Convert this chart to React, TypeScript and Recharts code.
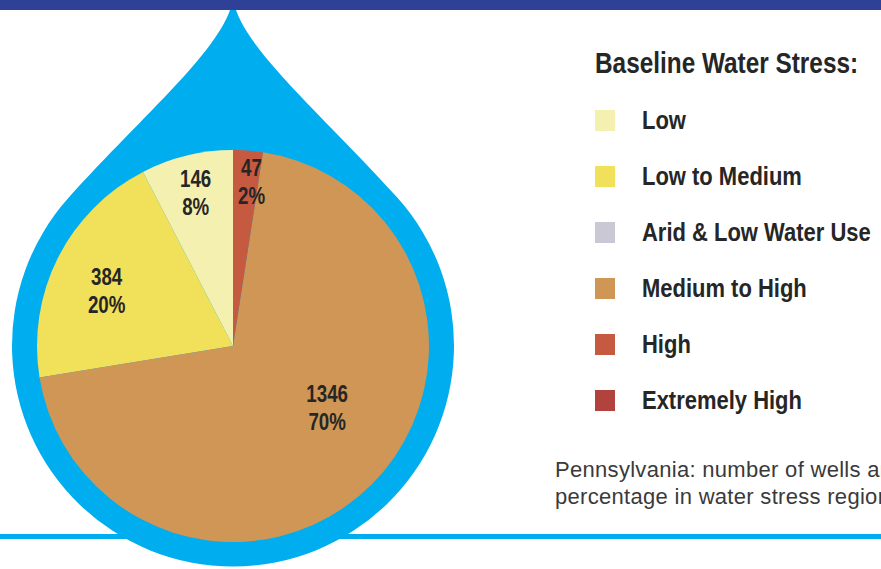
import { PieChart, Pie, Cell, Legend } from 'recharts'

const categories = ['Low', 'Low to Medium', 'Arid & Low Water Use', 'Medium to High', 'High', 'Extremely High']
const wells = [146, 384, 0, 1346, 47, 0]
const colors = ['#f4f1b0', '#f1e05a', '#c9c8d4', '#cf9655', '#c65a40', '#b2423e']

const data = categories.map((name, i) => ({ name, value: wells[i] }))

// no condensed face installed, so squeeze a bold sans horizontally
const BOLD = "'Liberation Sans', Arial, sans-serif"
const RADIAN = Math.PI / 180

const labelSpot: Record<string, { r: number; da: number }> = {
  Low: { r: 158, da: 0 },
  'Low to Medium': { r: 138, da: 3 },
  'Medium to High': { r: 112, da: 12 },
  High: { r: 166, da: -2 },
}

const renderLabel = (props: any) => {
  const { cx, cy, midAngle, value, percent, name } = props
  if (!value) return null
  const spot = labelSpot[name] ?? { r: 140, da: 0 }
  const a = (midAngle + spot.da) * RADIAN
  const x = cx + spot.r * Math.cos(a)
  const y = cy - spot.r * Math.sin(a)
  return (
    <text
      x={x}
      y={y}
      textAnchor="middle"
      fill="#262626"
      fontFamily={BOLD}
      fontWeight="bold"
      fontSize={24}
      transform={`translate(${x} 0) scale(0.78 1) translate(${-x} 0)`}
    >
      <tspan x={x} y={y - 5}>{value}</tspan>
      <tspan x={x} y={y + 23}>{Math.round(percent * 100)}%</tspan>
    </text>
  )
}

const squeeze = (scale: number) => ({
  display: 'inline-block',
  whiteSpace: 'nowrap' as const,
  transform: `scaleX(${scale})`,
  transformOrigin: 'left center',
})

const LegendBox = ({ payload }: any) => {
  const items = [...(payload ?? [])].sort(
    (a: any, b: any) => categories.indexOf(a.value) - categories.indexOf(b.value)
  )
  return (
    <div style={{ fontFamily: BOLD, fontWeight: 'bold', color: '#262626' }}>
      <div style={{ fontSize: 29, lineHeight: '30px', height: 44 }}>
        <span style={squeeze(0.84)}>Baseline Water Stress:</span>
      </div>
      {items.map((p: any) => (
        <div key={p.value} style={{ display: 'flex', alignItems: 'center', height: 56 }}>
          <span style={{ width: 20, height: 21, background: p.color, display: 'inline-block', flex: 'none' }} />
          <span style={{ marginLeft: 27, fontSize: 26, lineHeight: '30px', ...squeeze(0.845) }}>{p.value}</span>
        </div>
      ))}
    </div>
  )
}

// water drop outline around the pie
const CX = 233
const CY = 345.5
const R = 221
const dropPath = () => {
  const t = 48 * RADIAN
  const px = R * Math.sin(t)
  const py = CY - R * Math.cos(t)
  const c2x = px - 115 * Math.cos(t)
  const c2y = py - 115 * Math.sin(t)
  return [
    `M ${CX} -2`,
    `C ${CX + 6} 45 ${CX + c2x} ${c2y} ${CX + px} ${py}`,
    `A ${R} ${R} 0 1 1 ${CX - px} ${py}`,
    `C ${CX - c2x} ${c2y} ${CX - 6} 45 ${CX} -2`,
    'Z',
  ].join(' ')
}

export default function App() {
  return (
    <div style={{ position: 'absolute', left: 0, top: 0, width: 881, height: 569, overflow: 'hidden', background: '#fff' }}>
      <svg width={881} height={569} style={{ position: 'absolute', left: 0, top: 0 }}>
        <rect x={0} y={534} width={881} height={5} fill="#00aeef" />
        <path d={dropPath()} fill="#00aeef" />
        <rect x={0} y={0} width={881} height={10} fill="#2f4196" />
        <text fontFamily="'Liberation Sans', Arial, sans-serif" fontSize={22} letterSpacing={0.3} fill="#3a3a3a">
          <tspan x={555} y={477}>Pennsylvania: number of wells and</tspan>
          <tspan x={555} y={504}>percentage in water stress regions</tspan>
        </text>
      </svg>
      <div style={{ position: 'absolute', left: 0, top: 0 }}>
        <PieChart width={881} height={569} margin={{ top: 0, right: 0, bottom: 0, left: 0 }}>
          <Pie
            data={data}
            dataKey="value"
            nameKey="name"
            cx={233}
            cy={346}
            outerRadius={196}
            startAngle={90}
            endAngle={450}
            stroke="none"
            label={renderLabel}
            labelLine={false}
            isAnimationActive={false}
          >
            {data.map((d, i) => (
              <Cell key={d.name} fill={colors[i]} />
            ))}
          </Pie>
          <Legend
            layout="vertical"
            align="right"
            verticalAlign="middle"
            content={<LegendBox />}
            wrapperStyle={{ left: 595, top: 48, right: 'auto', width: 286 }}
          />
        </PieChart>
      </div>
    </div>
  )
}
